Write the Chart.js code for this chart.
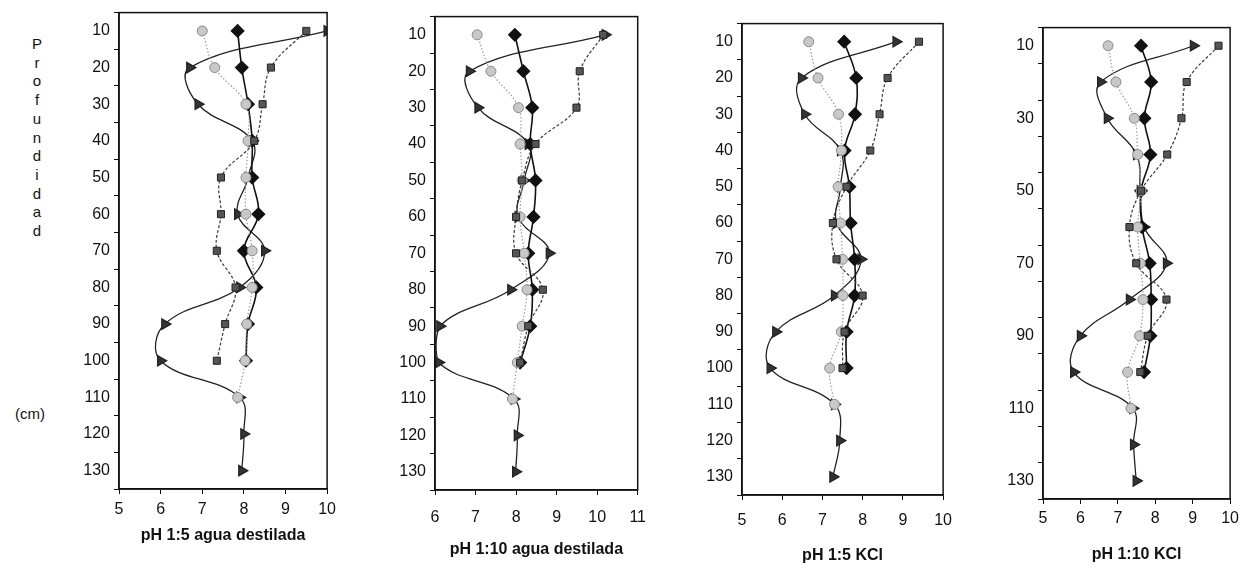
<!DOCTYPE html>
<html>
<head>
<meta charset="utf-8">
<script src="https://cdn.jsdelivr.net/npm/chart.js@4.4.1/dist/chart.umd.min.js"></script>
<style>
body{margin:0;background:#fff;width:1242px;height:572px;position:relative;overflow:hidden;font-family:"Liberation Sans",Arial,sans-serif;color:#111}
.pan{position:absolute}
#prof{position:absolute;left:29px;top:35px;width:16px;font-size:15px;line-height:18.7px;text-align:center}
#cm{position:absolute;left:15px;top:405px;font-size:15px}
</style>
</head>
<body>
<div id="prof">P<br>r<br>o<br>f<br>u<br>n<br>d<br>i<br>d<br>a<br>d</div>
<div id="cm">(cm)</div>
<div class="pan" style="left:69px;top:-1px;width:273px;height:546px"><canvas id="c1"></canvas></div>
<div class="pan" style="left:385px;top:3px;width:274px;height:556px"><canvas id="c2"></canvas></div>
<div class="pan" style="left:692px;top:10px;width:271px;height:555px"><canvas id="c3"></canvas></div>
<div class="pan" style="left:993px;top:14px;width:251px;height:550px"><canvas id="c4"></canvas></div>
<script>
// profundidad (cm)
const depths = ['10','20','30','40','50','60','70','80','90','100','110','120','130'];

// pH 1:5 agua destilada
const diam1 = [7.85, 7.95, 8.1, 8.2, 8.2, 8.35, 8.0, 8.3, 8.1, 8.05, null, null, null];
const circ1 = [7.0, 7.3, 8.05, 8.1, 8.05, 8.05, 8.2, 8.2, 8.07, 8.03, 7.85, null, null];
const sq1 = [9.5, 8.65, 8.45, 8.25, 7.45, 7.45, 7.35, 7.8, 7.55, 7.35, null, null, null];
const tri1 = [10.0, 6.7, 6.9, 8.2, 8.1, 7.85, 8.5, 7.9, 6.1, 6.0, 7.9, 8.0, 7.95];

// pH 1:10 agua destilada
const diam2 = [7.97, 8.18, 8.4, 8.35, 8.48, 8.43, 8.3, 8.4, 8.35, 8.1, null, null, null];
const circ2 = [7.04, 7.38, 8.06, 8.1, 8.15, 8.1, 8.2, 8.27, 8.15, 8.03, 7.91, null, null];
const sq2 = [10.15, 9.57, 9.49, 8.48, 8.15, 8.0, 8.0, 8.66, 8.3, 8.1, null, null, null];
const tri2 = [10.2, 6.85, 7.06, 8.3, 8.2, 8.05, 8.82, 7.87, 6.12, 6.09, 7.95, 8.03, 7.99];

// pH 1:5 KCl
const diam3 = [7.54, 7.84, 7.81, 7.55, 7.67, 7.7, 7.8, 7.8, 7.6, 7.6, null, null, null];
const circ3 = [6.66, 6.89, 7.4, 7.47, 7.39, 7.45, 7.5, 7.51, 7.47, 7.18, 7.3, null, null];
const sq3 = [9.4, 8.62, 8.42, 8.19, 7.6, 7.26, 7.35, 8.0, 7.55, 7.5, null, null, null];
const tri3 = [8.83, 6.48, 6.56, 7.45, 7.45, 7.35, 7.96, 7.3, 5.84, 5.7, 7.3, 7.43, 7.26];

// pH 1:10 KCl
const diam4 = [7.62, 7.89, 7.71, 7.87, 7.62, 7.65, 7.85, 7.89, 7.87, 7.7, null, null, null];
const circ4 = [6.74, 6.95, 7.44, 7.53, 7.62, 7.53, 7.6, 7.67, 7.58, 7.26, 7.35, null, null];
const sq4 = [9.69, 8.84, 8.7, 8.32, 7.62, 7.31, 7.49, 8.3, 7.8, 7.6, null, null, null];
const tri4 = [9.02, 6.54, 6.72, 7.5, 7.6, 7.7, 8.3, 7.31, 6.0, 5.82, 7.4, 7.42, 7.49];

const FONT = 'Liberation Sans';

// draws the closed box round the plot
const frame = {
    id: 'frame',
    afterDraw(chart) {
        const a = chart.chartArea;
        const ctx = chart.ctx;
        ctx.save();
        ctx.strokeStyle = '#111';
        ctx.lineWidth = 1.5;
        ctx.strokeRect(a.left, a.top, a.right - a.left, a.bottom - a.top);
        ctx.restore();
    }
};

function series(diam, circ, sq, tri) {
    return [
        {
            data: sq, borderColor: '#3a3a3a', borderWidth: 1.2, borderDash: [3, 2],
            pointStyle: 'rect', pointRadius: 5, pointBackgroundColor: '#555', pointBorderColor: '#222', pointBorderWidth: 1
        },
        {
            data: circ, borderColor: '#9a9a9a', borderWidth: 1.2, borderDash: [1.5, 2],
            pointStyle: 'circle', pointRadius: 5, pointBackgroundColor: '#c8c8c8', pointBorderColor: '#8a8a8a', pointBorderWidth: 1
        },
        {
            data: diam, borderColor: '#111', borderWidth: 1.6,
            pointStyle: 'rectRot', pointRadius: 6, pointBackgroundColor: '#111', pointBorderColor: '#111'
        },
        {
            data: tri, borderColor: '#222', borderWidth: 1.3,
            pointStyle: 'triangle', pointRotation: 90, pointRadius: 6, pointBackgroundColor: '#333', pointBorderColor: '#222'
        }
    ];
}

function panel(id, sets, xmin, xmax, title, o) {
    const ctx = document.getElementById(id).getContext('2d');
    return new Chart(ctx, {
        type: 'line',
        data: { labels: depths, datasets: sets },
        plugins: [frame],
        options: {
            responsive: true,
            maintainAspectRatio: false,
            animation: false,
            indexAxis: 'y',
            layout: { padding: { top: 10, right: 10, left: 0, bottom: 0 } },
            elements: { line: { tension: 0.4 } },
            plugins: { legend: { display: false }, tooltip: { enabled: false } },
            scales: {
                x: {
                    type: 'linear', min: xmin, max: xmax,
                    ticks: { stepSize: 1, color: '#111', padding: o.xpad, font: { family: FONT, size: 16 } },
                    grid: { drawOnChartArea: false, tickLength: 5, color: '#111' },
                    border: { color: '#111', width: 1.5 },
                    title: { display: true, text: title, color: '#111', padding: 0, font: { family: FONT, size: 16, weight: 'bold' } },
                    afterFit: s => { s.height = o.xh; }
                },
                y: {
                    type: 'category', offset: true,
                    ticks: {
                        color: '#111', padding: 4, font: { family: FONT, size: 16 },
                        callback: function (v, i) { return o.every2 && i % 2 ? '' : this.getLabelForValue(v); }
                    },
                    grid: { offset: true, drawOnChartArea: false, tickLength: 5, color: '#111' },
                    border: { color: '#111', width: 1.5 },
                    afterFit: s => { s.width = 50; }
                }
            }
        }
    });
}

panel('c1', series(diam1, circ1, sq1, tri1), 5, 10, 'pH 1:5 agua destilada', { xpad: 6, xh: 56 });
panel('c2', series(diam2, circ2, sq2, tri2), 6, 11, 'pH 1:10 agua destilada', { xpad: 13, xh: 69 });
panel('c3', series(diam3, circ3, sq3, tri3), 5, 10, 'pH 1:5 KCl', { xpad: 11, xh: 70 });
panel('c4', series(diam4, circ4, sq4, tri4), 5, 10, 'pH 1:10 KCl', { xpad: 5, xh: 65, every2: true });
</script>
</body>
</html>
